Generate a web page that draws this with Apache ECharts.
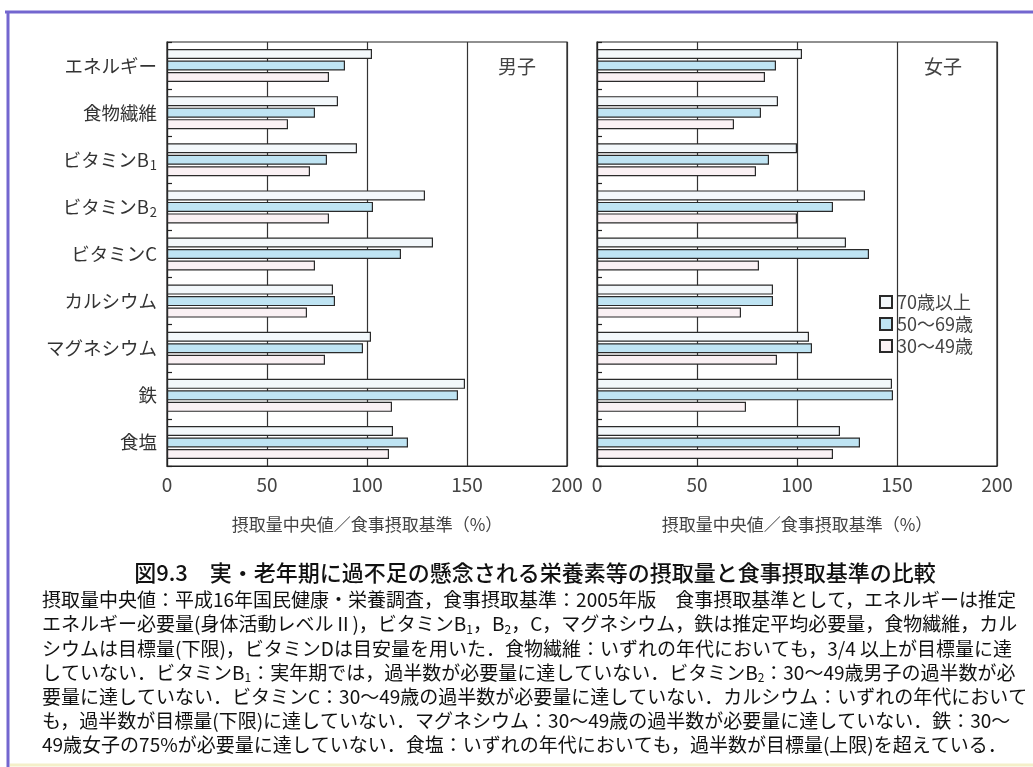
<!DOCTYPE html>
<html lang="ja">
<head>
<meta charset="UTF-8">
<title>図9.3</title>
<script src="https://cdn.jsdelivr.net/npm/echarts@6/dist/echarts.min.js"></script>
<style>
  html, body { margin: 0; padding: 0; background: #fff; }
  #main { width: 1033px; height: 767px; }
</style>
</head>
<body>
<div id="main"></div>
<script>
// 栄養素（上から順）
var nutrients = ['エネルギー', '食物繊維', 'ビタミンB1', 'ビタミンB2', 'ビタミンC', 'カルシウム', 'マグネシウム', '鉄', '食塩'];
var ageGroups = ['70歳以上', '50〜69歳', '30〜49歳'];

// 男子  摂取量中央値／食事摂取基準(%)
var male70 = [102.5, 85.5, 95, 129, 133, 83, 102, 149, 113];
var male50 = [89, 74, 80, 103, 117, 84, 98, 145.5, 120.5];
var male30 = [81, 60.5, 71.5, 81, 74, 70, 79, 112.5, 111];

// 女子
var female70 = [102.5, 90.5, 100, 134, 124.5, 88, 106, 147.5, 121.5];
var female50 = [89.5, 82, 86, 118, 136, 88, 107.5, 148, 131.5];
var female30 = [84, 68.5, 79.5, 100, 81, 72, 90, 74.5, 118];

var xTicks = [0, 50, 100, 150, 200];

var captionTitle = '図9.3　実・老年期に過不足の懸念される栄養素等の摂取量と食事摂取基準の比較';
var captionLines = [
    '摂取量中央値：平成16年国民健康・栄養調査，食事摂取基準：2005年版　食事摂取基準として，エネルギーは推定',
    'エネルギー必要量(身体活動レベルⅡ)，ビタミンB{s|1}，B{s|2}，C，マグネシウム，鉄は推定平均必要量，食物繊維，カル',
    'シウムは目標量(下限)，ビタミンDは目安量を用いた．食物繊維：いずれの年代においても，3/4 以上が目標量に達',
    'していない．ビタミンB{s|1}：実年期では，過半数が必要量に達していない．ビタミンB{s|2}：30〜49歳男子の過半数が必',
    '要量に達していない．ビタミンC：30〜49歳の過半数が必要量に達していない．カルシウム：いずれの年代において',
    'も，過半数が目標量(下限)に達していない．マグネシウム：30〜49歳の過半数が必要量に達していない．鉄：30〜',
    '49歳女子の75%が必要量に達していない．食塩：いずれの年代においても，過半数が目標量(上限)を超えている．'
];

var FONT = '"Noto Sans CJK JP", "Noto Sans", sans-serif';
var colors = ['#f3f8fb', '#bfe4f3', '#faf1f4'];

var myChart = echarts.init(document.getElementById('main'));

function xAxisOf(gridIndex) {
    return {
        type: 'value', gridIndex: gridIndex,
        min: xTicks[0], max: xTicks[xTicks.length - 1], interval: 50,
        name: '摂取量中央値／食事摂取基準（%）',
        nameLocation: 'middle', nameGap: 50,
        nameTextStyle: { fontFamily: FONT, fontSize: 17, color: '#444' },
        axisLine: { show: true, lineStyle: { color: '#222', width: 1.2 } },
        axisTick: { show: false },
        axisLabel: { fontFamily: FONT, fontSize: 19, color: '#444', margin: 9 },
        splitLine: { show: true, lineStyle: { color: '#333', width: 1.2 } }
    };
}

function yAxisOf(gridIndex, showLabel) {
    return {
        type: 'category', gridIndex: gridIndex, inverse: true,
        data: nutrients,
        axisLine: { show: true, lineStyle: { color: '#222', width: 1.2 } },
        axisTick: { show: true, inside: true, length: 5, lineStyle: { color: '#222', width: 1.2 } },
        axisLabel: {
            show: showLabel, margin: 10, fontFamily: FONT, fontSize: 18.5, color: '#333',
            formatter: function (v) {
                var m = v.match(/^(.*B)(\d)$/);
                if (m) return '{t|' + m[1] + '}{s|' + m[2] + '}';
                return '{t|' + v + '}';
            },
            rich: {
                t: { fontFamily: FONT, fontSize: 18.5, color: '#333' },
                s: { fontFamily: FONT, fontSize: 13, color: '#333', padding: [10, 0, 0, 1] }
            }
        }
    };
}

function barSeries(name, data, idx, axisIndex) {
    return {
        name: name, type: 'bar', data: data,
        xAxisIndex: axisIndex, yAxisIndex: axisIndex,
        barWidth: 10, barGap: '15%',
        itemStyle: { color: colors[idx], borderColor: '#2a2a2a', borderWidth: 1.2 },
        emphasis: { disabled: true }
    };
}

var option = {
    backgroundColor: '#ffffff',
    animation: false,
    grid: [
        { left: 167, right: 466, top: 42, bottom: 301, show: true, borderColor: '#222', borderWidth: 1.2, backgroundColor: 'transparent' },
        { left: 597, right: 36, top: 42, bottom: 301, show: true, borderColor: '#222', borderWidth: 1.2, backgroundColor: 'transparent' }
    ],
    xAxis: [xAxisOf(0), xAxisOf(1)],
    yAxis: [yAxisOf(0, true), yAxisOf(1, false)],
    legend: {
        data: ageGroups, orient: 'vertical', left: 874, top: 288,
        icon: 'rect', itemWidth: 12, itemHeight: 12, itemGap: 4,
        textStyle: { fontFamily: FONT, fontSize: 18, color: '#444' },
        selectedMode: false
    },
    series: [
        barSeries(ageGroups[0], male70, 0, 0),
        barSeries(ageGroups[1], male50, 1, 0),
        barSeries(ageGroups[2], male30, 2, 0),
        barSeries(ageGroups[0], female70, 0, 1),
        barSeries(ageGroups[1], female50, 1, 1),
        barSeries(ageGroups[2], female30, 2, 1)
    ],
    graphic: []
};

// 外枠（紫の罫線）
option.graphic.push(
    { type: 'line', shape: { x1: 5, y1: 12, x2: 1033, y2: 12 }, style: { stroke: '#7366cf', lineWidth: 3 } },
    { type: 'line', shape: { x1: 8, y1: 11, x2: 8, y2: 767 }, style: { stroke: '#7366cf', lineWidth: 3 } },
    { type: 'line', shape: { x1: 10, y1: 765, x2: 1033, y2: 765 }, style: { stroke: '#f4efc9', lineWidth: 3 } }
);

// パネル見出し
option.graphic.push(
    { type: 'text', x: 517, y: 67, style: { text: '男子', fontFamily: FONT, fontSize: 19, fill: '#444', align: 'center', verticalAlign: 'middle' } },
    { type: 'text', x: 943, y: 67, style: { text: '女子', fontFamily: FONT, fontSize: 19, fill: '#444', align: 'center', verticalAlign: 'middle' } }
);

// 図タイトルと説明文
option.graphic.push({
    type: 'text', x: 535, y: 573,
    style: { text: captionTitle, fontFamily: FONT, fontSize: 22, fontWeight: 500, fill: '#111', align: 'center', verticalAlign: 'middle' }
});
captionLines.forEach(function (line, i) {
    option.graphic.push({
        type: 'text', x: 42, y: 600 + i * 24.2,
        style: {
            text: line, fontFamily: FONT, fontSize: 19, fill: '#111', verticalAlign: 'middle',
            rich: { s: { fontFamily: FONT, fontSize: 12, fill: '#111', padding: [10, 0, 0, 0] } }
        }
    });
});

myChart.setOption(option);
</script>
</body>
</html>
